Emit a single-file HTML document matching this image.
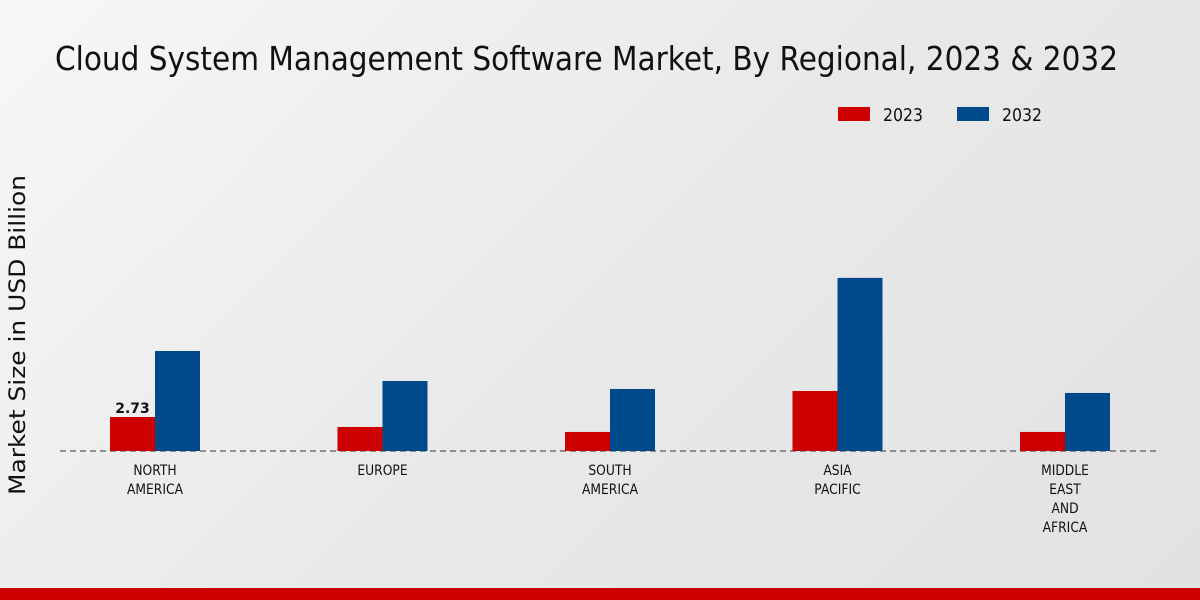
<!DOCTYPE html>
<html><head><meta charset="utf-8"><style>
html,body{margin:0;padding:0;}
body{width:1200px;height:600px;overflow:hidden;background:linear-gradient(135deg,#f7f7f7 0%,#e9e9e9 50%,#e2e2e2 100%);font-family:"DejaVu Sans","Liberation Sans",sans-serif;}
svg{position:absolute;left:0;top:0;}
</style></head><body>
<svg width="1200" height="600">
<text x="55" y="70" font-size="33" textLength="1063" lengthAdjust="spacingAndGlyphs" fill="#111">Cloud System Management Software Market, By Regional, 2023 &amp; 2032</text>
<text transform="translate(25,335) rotate(-90)" text-anchor="middle" font-size="22" textLength="320" lengthAdjust="spacingAndGlyphs" fill="#111">Market Size in USD Billion</text>
<g>
<rect x="838" y="107" width="32" height="14" fill="#cc0000"/>
<text x="883" y="121" font-size="18" textLength="40" lengthAdjust="spacingAndGlyphs" fill="#111">2023</text>
<rect x="957" y="107" width="32" height="14" fill="#004a8c"/>
<text x="1002" y="121" font-size="18" textLength="40" lengthAdjust="spacingAndGlyphs" fill="#111">2032</text>
</g>
<line x1="60" y1="451" x2="1160" y2="451" stroke="#333" stroke-dasharray="6,4" stroke-width="1"/>
<g id="bars"></g>
<rect x="0" y="588" width="1200" height="12" fill="#cc0000"/>
</svg>
<script>
const categories=[["NORTH","AMERICA"],["EUROPE"],["SOUTH","AMERICA"],["ASIA","PACIFIC"],["MIDDLE","EAST","AND","AFRICA"]];
const values2023=[2.73,1.93,1.53,4.82,1.53];
const values2032=[8.03,5.62,4.98,13.9,4.66];
const NS="http://www.w3.org/2000/svg";
const g=document.getElementById('bars');
const baseY=451, scale=34/2.73, bw=45;
const xc=i=>155+i*227.5;
const y=v=>baseY-v*scale;
function mk(tag,attrs){const e=document.createElementNS(NS,tag);for(const k in attrs)e.setAttribute(k,attrs[k]);g.appendChild(e);return e;}
categories.forEach((c,i)=>{
  const cx=xc(i);
  const r1=mk('rect',{x:cx-bw,y:y(values2023[i]),width:bw,height:values2023[i]*scale,fill:'#cc0000'});
  
  
  const r2=mk('rect',{x:cx,y:y(values2032[i]),width:bw,height:values2032[i]*scale,fill:'#004a8c'});
  
  
  c.forEach((line,j)=>{
    const t=mk('text',{x:cx,y:475+j*19,'text-anchor':'middle','font-size':14,fill:'#111',transform:`translate(${cx} 0) scale(0.88 1) translate(${-cx} 0)`});
    t.textContent=line;
    
    
  });
});
const lbl=mk('text',{x:xc(0)-bw/2,y:y(values2023[0])-4,'text-anchor':'middle','font-size':14,'font-weight':'bold',fill:'#111'});
lbl.textContent=values2023[0].toFixed(2);


</script>
</body></html>
